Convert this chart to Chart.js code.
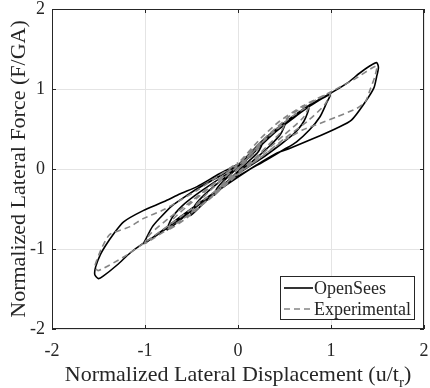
<!DOCTYPE html>
<html><head><meta charset="utf-8">
<script src="https://cdn.jsdelivr.net/npm/chart.js@4/dist/chart.umd.min.js"></script>
<style>html,body{margin:0;padding:0;background:#fff}#wrap{width:430px;height:388px}</style>
</head><body><div id="wrap"><canvas id="c" width="430" height="388"></canvas></div>
<script>
// Tick labels
const xTicks = [-2, -1, 0, 1, 2];
const yTicks = [-2, -1, 0, 1, 2];
const seriesNames = ['OpenSees', 'Experimental'];
const xTitle = 'Normalized Lateral Displacement (u/t';
const xTitleSub = 'r';
const yTitle = 'Normalized Lateral Force (F/GA)';

// OpenSees: normalized displacement / force (cycles at 0.25, 0.5, 0.75, 1.0, 1.5)
const openSeesDisp = [
 0,0.12,0.26,0.22,0.1,0,-0.12,-0.26,-0.22,-0.1,0,
 0.15,0.3,0.42,0.51,0.46,0.36,0.2,0,-0.2,-0.38,-0.51,-0.46,-0.36,-0.2,0,
 0.2,0.4,0.6,0.76,0.71,0.6,0.45,0.25,0,-0.25,-0.5,-0.76,-0.71,-0.6,-0.45,-0.25,0,
 0.25,0.5,0.75,0.99,0.95,0.88,0.77,0.63,0.49,0.3,0,-0.3,-0.6,-0.85,-1.01,-0.98,-0.92,-0.83,-0.71,-0.55,-0.43,-0.2,0,
 0.27,0.49,0.77,1.0,1.17,1.31,1.42,1.49,1.51,1.49,1.46,1.37,1.22,1.06,0.81,0.56,0.42,0.2,0,-0.3,-0.6,-0.85,-1.02,-1.16,-1.3,-1.45,-1.5,-1.54,-1.53,-1.48,-1.42,-1.35,-1.23,-1.02,-0.8,-0.62,-0.44,-0.2,0
];
const openSeesForce = [
 0,0.15,0.32,0.22,0.08,-0.03,-0.16,-0.33,-0.23,-0.09,0.02,
 0.19,0.36,0.49,0.58,0.44,0.31,0.14,-0.05,-0.25,-0.44,-0.58,-0.45,-0.32,-0.16,0.02,
 0.24,0.46,0.64,0.77,0.6,0.44,0.3,0.13,-0.06,-0.29,-0.52,-0.76,-0.61,-0.46,-0.32,-0.16,0.03,
 0.3,0.56,0.77,0.93,0.82,0.65,0.49,0.34,0.24,0.11,-0.09,-0.33,-0.58,-0.8,-0.93,-0.85,-0.72,-0.6,-0.46,-0.33,-0.24,-0.09,0.05,
 0.36,0.57,0.8,0.95,1.07,1.2,1.29,1.33,1.27,1.15,1.01,0.84,0.61,0.51,0.38,0.26,0.2,0.05,-0.1,-0.34,-0.6,-0.81,-0.93,-1.05,-1.2,-1.34,-1.37,-1.32,-1.22,-1.07,-0.95,-0.83,-0.66,-0.52,-0.41,-0.31,-0.22,-0.06,0.06
];

// Experimental: normalized displacement / force
const expDisp = [
 0,0.13,0.26,0.2,0.1,0,-0.13,-0.26,-0.2,-0.1,0,
 0.25,0.5,0.46,0.3,0.15,0,-0.25,-0.5,-0.46,-0.3,-0.15,0,
 0.3,0.55,0.76,0.7,0.5,0.25,0,-0.3,-0.55,-0.75,-0.7,-0.5,-0.25,0,
 0.3,0.6,0.99,0.93,0.75,0.5,0.25,0,-0.3,-0.6,-1.0,-0.95,-0.75,-0.5,-0.25,0,
 0.25,0.45,0.7,0.99,1.25,1.49,1.47,1.42,1.37,1.28,1.06,0.88,0.7,0.5,0.25,0,-0.5,-1.04,-1.23,-1.5,-1.54,-1.47,-1.38,-1.16,-1.02,-0.8,-0.62,-0.43,-0.2,0
];
const expForce = [
 0,0.17,0.33,0.23,0.1,0,-0.17,-0.33,-0.23,-0.1,0.01,
 0.32,0.57,0.46,0.27,0.1,-0.04,-0.31,-0.56,-0.46,-0.27,-0.11,0.04,
 0.38,0.63,0.78,0.64,0.43,0.18,-0.05,-0.36,-0.61,-0.76,-0.63,-0.42,-0.18,0.06,
 0.4,0.7,0.95,0.8,0.6,0.38,0.15,-0.07,-0.37,-0.63,-0.93,-0.82,-0.62,-0.4,-0.17,0.07,
 0.39,0.6,0.79,0.96,1.12,1.29,1.15,0.99,0.84,0.76,0.65,0.57,0.49,0.36,0.15,-0.06,-0.5,-0.95,-1.1,-1.27,-1.22,-1.0,-0.82,-0.72,-0.62,-0.51,-0.39,-0.26,-0.08,0.08
];

const toPts = (xs, ys) => xs.map((x, i) => ({x: x, y: ys[i]}));
const SERIF = "'Liberation Serif', 'Times New Roman', serif";
const TXT = '#262626';

const frame = {
  id: 'frame',
  afterDatasetsDraw(chart) {
    const ctx = chart.ctx, a = chart.chartArea;
    const xs = chart.scales.x, ys = chart.scales.y;
    ctx.save();
    ctx.strokeStyle = TXT; ctx.lineWidth = 1;
    ctx.strokeRect(Math.round(a.left) + 0.5, Math.round(a.top) + 0.5, Math.round(a.right - a.left) - 1, Math.round(a.bottom - a.top) - 1);
    const tl = 4;
    ctx.beginPath();
    xTicks.forEach(v => {
      const px = Math.round(xs.getPixelForValue(v)) + 0.5;
      ctx.moveTo(px, a.bottom); ctx.lineTo(px, a.bottom - tl);
      ctx.moveTo(px, a.top); ctx.lineTo(px, a.top + tl);
    });
    yTicks.forEach(v => {
      const py = Math.round(ys.getPixelForValue(v)) + 0.5;
      ctx.moveTo(a.left, py); ctx.lineTo(a.left + tl, py);
      ctx.moveTo(a.right, py); ctx.lineTo(a.right - tl, py);
    });
    ctx.stroke();
    // legend
    const lx = 280, ly = 276, lw = 134, lh = 43;
    ctx.fillStyle = '#fff';
    ctx.fillRect(lx, ly, lw, lh);
    ctx.strokeStyle = TXT; ctx.lineWidth = 1;
    ctx.strokeRect(lx + 0.5, ly + 0.5, lw, lh);
    const ds = chart.data.datasets;
    const rows = [288, 309];
    ctx.font = '18px ' + SERIF; ctx.textBaseline = 'middle'; ctx.textAlign = 'left';
    [0, 1].forEach(i => {
      ctx.beginPath();
      ctx.strokeStyle = ds[i].borderColor; ctx.lineWidth = ds[i].borderWidth;
      ctx.setLineDash(ds[i].borderDash || []);
      ctx.moveTo(284, rows[i]); ctx.lineTo(313, rows[i]); ctx.stroke();
      ctx.setLineDash([]);
      ctx.fillStyle = TXT;
      ctx.fillText(ds[i].label, 314, rows[i] + 1);
    });
    // axis titles
    ctx.fillStyle = TXT;
    ctx.font = '22px ' + SERIF; ctx.textBaseline = 'alphabetic';
    const cx = (a.left + a.right) / 2;
    const w1 = ctx.measureText(xTitle).width;
    ctx.font = '15px ' + SERIF;
    const w2 = ctx.measureText(xTitleSub).width;
    ctx.font = '22px ' + SERIF;
    const w3 = ctx.measureText(')').width;
    let sx = cx - (w1 + w2 + w3) / 2;
    ctx.textAlign = 'left';
    ctx.fillText(xTitle, sx, 381);
    ctx.font = '15px ' + SERIF;
    ctx.fillText(xTitleSub, sx + w1, 387);
    ctx.font = '22px ' + SERIF;
    ctx.fillText(')', sx + w1 + w2, 381);
    ctx.save();
    ctx.translate(25, (a.top + a.bottom) / 2);
    ctx.rotate(-Math.PI / 2);
    ctx.textAlign = 'center';
    ctx.fillText(yTitle, 0, 0);
    ctx.restore();
    ctx.restore();
  }
};

new Chart(document.getElementById('c'), {
  type: 'scatter',
  data: {
    datasets: [
      { label: seriesNames[0], data: toPts(openSeesDisp, openSeesForce), showLine: true,
        borderColor: '#000', borderWidth: 1.6, pointRadius: 0, tension: 0.25, order: 2 },
      { label: seriesNames[1], data: toPts(expDisp, expForce), showLine: true,
        borderColor: '#858585', borderWidth: 1.6, borderDash: [6, 4], pointRadius: 0, tension: 0.2, order: 1 }
    ]
  },
  plugins: [frame],
  options: {
    responsive: false, animation: false, devicePixelRatio: 1,
    layout: { padding: { top: 9, right: 6, left: 0, bottom: 0 } },
    plugins: { legend: { display: false }, tooltip: { enabled: false } },
    scales: {
      x: {
        min: -2, max: 2,
        afterFit(s) { s.height = 59; s.paddingLeft = 0; s.paddingRight = 0; },
        afterBuildTicks(s) { s.ticks = xTicks.map(v => ({value: v})); },
        grid: { color: '#e4e4e4', drawTicks: false, lineWidth: 1 },
        border: { display: false },
        ticks: { padding: 11, color: TXT, font: { family: SERIF, size: 18 }, maxRotation: 0 }
      },
      y: {
        min: -2, max: 2,
        afterFit(s) { s.width = 52; s.paddingTop = 0; s.paddingBottom = 0; },
        afterBuildTicks(s) { s.ticks = yTicks.map(v => ({value: v})); },
        grid: { color: '#e4e4e4', drawTicks: false, lineWidth: 1 },
        border: { display: false },
        ticks: { padding: 7, color: TXT, font: { family: SERIF, size: 18 } }
      }
    }
  }
});
</script></body></html>
